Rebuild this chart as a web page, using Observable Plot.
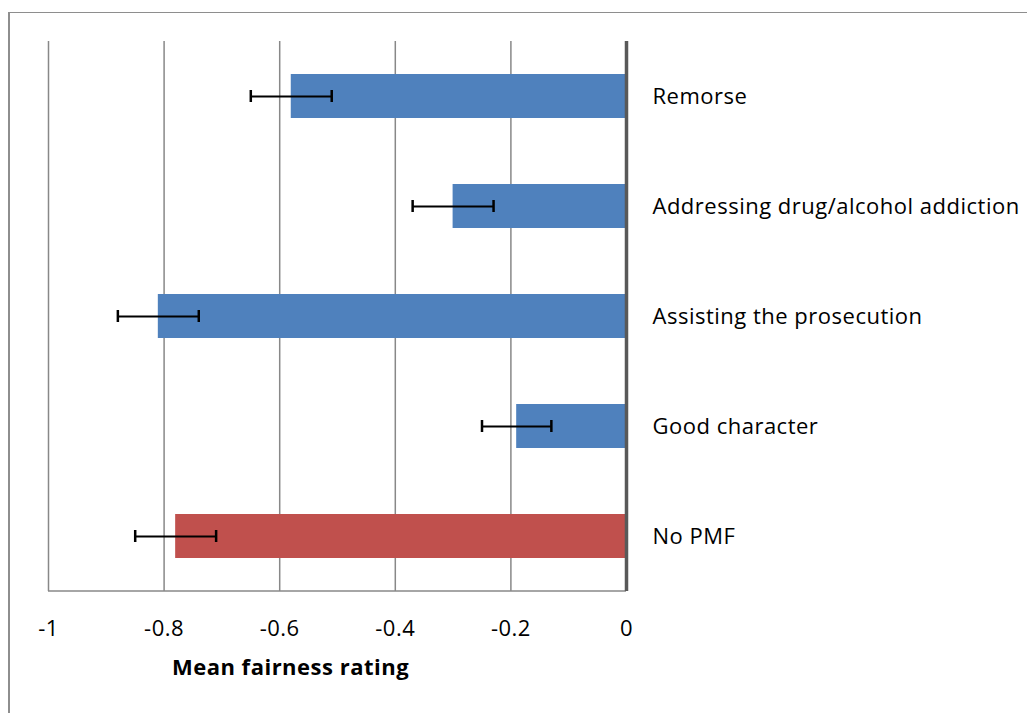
<!DOCTYPE html>
<html>
<head>
<meta charset="utf-8">
<script src="https://cdn.jsdelivr.net/npm/d3@7"></script>
<script src="https://cdn.jsdelivr.net/npm/@observablehq/plot@0.6"></script>
<style>
  html, body { margin: 0; padding: 0; background: #fff; overflow: hidden; }
  #wrap { position: relative; width: 1027px; height: 713px; }
  #frame { position: absolute; left: 8px; top: 12px; width: 1100px; height: 800px;
           border-left: 2px solid #8e8e8e; border-top: 1px solid #8e8e8e; box-sizing: border-box; }
  #chart { position: absolute; left: 0; top: 0; }
  #chart svg text { letter-spacing: 0.5px; }
</style>
</head>
<body>
<div id="wrap"><div id="frame"></div><div id="chart"></div></div>
<script>
const categories = ["Remorse", "Addressing drug/alcohol addiction", "Assisting the prosecution", "Good character", "No PMF"];
const means = [-0.58, -0.30, -0.81, -0.19, -0.78];
const errors = [0.07, 0.07, 0.07, 0.06, 0.07];
const barColors = ["#4F81BD", "#4F81BD", "#4F81BD", "#4F81BD", "#C0504D"];
const xTicks = [-1, -0.8, -0.6, -0.4, -0.2, 0];
const xTitle = "Mean fairness rating";

const data = categories.map((c, i) => ({
  name: c, mean: means[i], lo: means[i] - errors[i], hi: means[i] + errors[i], color: barColors[i]
}));

const font = "'Open Sans', sans-serif";

const plot = Plot.plot({
  width: 1027,
  height: 713,
  marginLeft: 48,
  marginRight: 401,
  marginTop: 41,
  marginBottom: 122,
  style: { fontFamily: font, fontSize: "22px", color: "#000", background: "transparent" },
  x: { domain: [-1, 0], label: null },
  y: { domain: categories, paddingInner: 0.6, paddingOuter: 0.3, label: null },
  marks: [
    Plot.ruleX(xTicks.filter(d => d !== 0), { stroke: "#888888", strokeWidth: 1.5 }),
    Plot.barX(data, { y: "name", x1: 0, x2: "mean", fill: "color" }),
    Plot.ruleY(data, { y: "name", x1: "lo", x2: "hi", stroke: "#000", strokeWidth: 2 }),
    Plot.tickX(data, { y: "name", x: "lo", stroke: "#000", strokeWidth: 2.5, insetTop: 16, insetBottom: 16 }),
    Plot.tickX(data, { y: "name", x: "hi", stroke: "#000", strokeWidth: 2.5, insetTop: 16, insetBottom: 16 }),
    Plot.ruleX([0], { stroke: "#595959", strokeWidth: 3.5 }),
    Plot.axisX(xTicks, { anchor: "bottom", tickSize: 0, tickPadding: 29, tickFormat: d => String(d), fontSize: 22, label: null }),
    Plot.axisY({ anchor: "right", tickSize: 0, tickPadding: 26, fontSize: 22, label: null }),
    Plot.text([xTitle], { frameAnchor: "bottom", dx: -47, dy: 76, fontSize: 22, fontWeight: "bold", textAnchor: "middle", lineAnchor: "middle", fill: "#000" })
  ]
});

// bottom axis baseline, positioned from the plot's own x scale
const xs = plot.scale("x");
d3.select(plot).insert("line", "g[aria-label='bar']")
  .attr("x1", xs.apply(-1)).attr("x2", xs.apply(0))
  .attr("y1", 713 - 122).attr("y2", 713 - 122)
  .attr("stroke", "#888888").attr("stroke-width", 1.5);

document.getElementById("chart").appendChild(plot);
</script>
</body>
</html>
